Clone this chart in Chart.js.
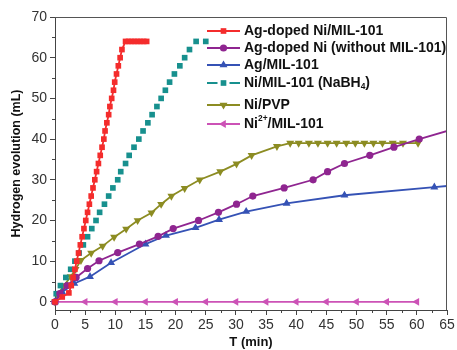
<!DOCTYPE html>
<html lang="en">
<head>
    <meta charset="UTF-8">
    <title>Hydrogen evolution</title>
    <style>
        body { margin: 0; background: #fff; }
        .chart-box { width: 457px; height: 350px; }
    </style>
</head>
<body>
    <div class="chart-box">
        <canvas id="h2Chart"></canvas>
    </div>

    <script src="https://cdn.jsdelivr.net/npm/chart.js"></script>
    <script>
        // Axis ticks
        const xTicks = [0, 5, 10, 15, 20, 25, 30, 35, 40, 45, 50, 55, 60, 65];
        const yTicks = [0, 10, 20, 30, 40, 50, 60, 70];

        // Series names (_{..} = subscript, ^{..} = superscript)
        const seriesNames = [
            'Ag-doped Ni/MIL-101',
            'Ag-doped Ni (without MIL-101)',
            'Ag/MIL-101',
            'Ni/MIL-101 (NaBH_{4})',
            'Ni/PVP',
            'Ni^{2+}/MIL-101'
        ];

        // Ag-doped Ni/MIL-101
        const agNiMilT = [0, 1.2, 2.3, 2.7, 3.0, 3.3, 3.6, 3.9, 4.2, 4.5, 4.8, 5.1, 5.4, 5.7, 6.0, 6.3, 6.6, 6.9, 7.2,
            7.5, 7.8, 8.1, 8.3, 8.6, 8.9, 9.1, 9.4, 9.7, 9.9, 10.2, 10.5, 10.8, 11.1, 11.7,
            12.2, 12.7, 13.2, 13.7, 14.2, 14.7, 15.2];
        const agNiMilV = [0, 1.2, 2.2, 4, 6, 8, 10, 12, 14, 16, 18, 20, 22, 24, 26, 28, 30, 32, 34,
            36, 38, 40, 42, 44, 46, 48, 50, 52, 54, 56, 58, 60, 62, 64,
            64, 64, 64, 64, 64, 64, 64];

        // Ag-doped Ni (without MIL-101)
        const agNiT = [0, 0.8, 2.0, 3.5, 5.4, 7.3, 10.4, 14.0, 17.1, 19.6, 23.8, 27.1, 30.1, 32.8, 38.0, 42.8, 45.2, 48.0, 52.2, 56.2, 60.4, 66];
        const agNiV = [0, 2, 4, 6, 8.2, 10.1, 12.1, 14.2, 16.1, 18, 20, 22, 24, 26, 28, 30, 32, 34, 36, 38, 40, 42.4];

        // Ag/MIL-101
        const agMilT = [0, 1.2, 3.2, 5.8, 9.3, 15.0, 18.4, 23.3, 27.2, 31.7, 38.4, 48.0, 62.9, 66];
        const agMilV = [0, 2.4, 4.5, 6.2, 9.6, 14.2, 16.3, 18.2, 20.2, 22.2, 24.2, 26.2, 28.2, 28.6];

        // Ni/MIL-101 (NaBH4)
        const niMilT = [0, 0.2, 0.9, 1.8, 2.6, 3.3, 4.0, 4.7, 5.4, 6.1, 6.8, 7.4, 8.2, 8.9, 9.6, 10.4, 10.9, 11.7,
            12.3, 13.1, 13.9, 14.6, 15.4, 16.1, 16.9, 17.6, 18.3, 19.0, 19.8, 20.7, 21.5, 22.3, 23.4, 25.0];
        const niMilV = [0, 2, 4, 6, 8, 10, 12, 14, 16, 18, 20, 22, 24, 26, 28, 30, 32, 34,
            36, 38, 40, 42, 44, 46, 48, 50, 52, 54, 56, 58, 60, 62, 64, 64];

        // Ni/PVP
        const niPvpT = [0, 0.5, 1.5, 2.6, 3.4, 4.3, 6.0, 7.9, 9.8, 11.8, 13.7, 16.0, 17.6, 19.3, 21.5, 24.0, 27.4, 30.1, 32.6, 36.8,
            39.0, 40.4, 42.1, 43.6, 45.2, 46.7, 48.3, 49.8, 51.3, 52.8, 54.3, 56.0, 57.7, 60.2];
        const niPvpV = [0, 2, 4, 6.2, 8, 10.2, 12, 13.7, 15.9, 17.9, 20, 21.9, 24, 26, 27.9, 30, 32, 33.9, 36, 38.2,
            39, 39, 39, 39, 39, 39, 39, 39, 39, 39, 39, 39, 39, 39];

        // Ni2+/MIL-101
        const ni2MilT = [0, 5, 10, 15, 20, 25, 30, 35, 40, 45, 50, 55, 60];
        const ni2MilV = [0, 0, 0, 0, 0, 0, 0, 0, 0, 0, 0, 0, 0];

        const FONT = "'Liberation Sans', Arial, sans-serif";

        function pairs(t, v) {
            return t.map((x, i) => ({ x: x, y: v[i] }));
        }

        function plainName(s) {
            return s.replace(/[_^]\{([^}]*)\}/g, '$1');
        }

        const seriesStyles = [
            { color: '#f42c2c', shape: 'rect', rot: 0, r: 4, line: true },
            { color: '#8f2590', shape: 'circle', rot: 0, r: 3.6, line: true },
            { color: '#3552b5', shape: 'triangle', rot: 0, r: 4.6, line: true },
            { color: '#17908e', shape: 'rect', rot: 0, r: 4, line: false },
            { color: '#8c8c22', shape: 'triangle', rot: 180, r: 4.6, line: true },
            { color: '#cc52b6', shape: 'triangle', rot: -90, r: 4.6, line: true }
        ];

        const seriesData = [
            pairs(agNiMilT, agNiMilV),
            pairs(agNiT, agNiV),
            pairs(agMilT, agMilV),
            pairs(niMilT, niMilV),
            pairs(niPvpT, niPvpV),
            pairs(ni2MilT, ni2MilV)
        ];

        const datasets = seriesData.map((d, i) => {
            const s = seriesStyles[i];
            return {
                label: plainName(seriesNames[i]),
                data: d,
                borderColor: s.color,
                backgroundColor: s.color,
                borderWidth: 1.8,
                showLine: s.line,
                pointStyle: s.shape,
                pointRotation: s.rot,
                pointRadius: s.r,
                pointBorderWidth: 0,
                tension: 0,
                clip: { left: 6, top: 6, right: 0, bottom: 6 }
            };
        });

        // simple marker for the legend
        function marker(ctx, shape, x, y, r, rot, color) {
            ctx.save();
            ctx.fillStyle = color;
            ctx.translate(x, y);
            ctx.rotate(rot * Math.PI / 180);
            ctx.beginPath();
            if (shape === 'rect') {
                const s = r * Math.SQRT1_2;
                ctx.rect(-s, -s, 2 * s, 2 * s);
            } else if (shape === 'circle') {
                ctx.arc(0, 0, r, 0, Math.PI * 2);
            } else {
                for (let k = 0; k < 3; k++) {
                    const a = k * 2 * Math.PI / 3;
                    ctx.lineTo(Math.sin(a) * r, -Math.cos(a) * r);
                }
                ctx.closePath();
            }
            ctx.fill();
            ctx.restore();
        }

        // draws text with _{sub} and ^{sup} parts
        function richText(ctx, str, x, y, size) {
            const parts = str.split(/([_^]\{[^}]*\})/).filter(p => p.length);
            parts.forEach(p => {
                let dy = 0, fs = size, txt = p;
                if (p[0] === '_') { txt = p.slice(2, -1); fs = size * 0.6; dy = 4; }
                else if (p[0] === '^') { txt = p.slice(2, -1); fs = size * 0.6; dy = -5; }
                ctx.font = 'bold ' + fs + 'px ' + FONT;
                ctx.fillText(txt, x, y + dy);
                x += ctx.measureText(txt).width;
            });
        }

        const frameAndLegend = {
            id: 'frameAndLegend',
            afterDraw(chart) {
                const ctx = chart.ctx;
                const a = chart.chartArea;
                const xs = chart.scales.x, ys = chart.scales.y;
                ctx.save();

                // top and right frame
                ctx.strokeStyle = '#555';
                ctx.lineWidth = 1;
                ctx.beginPath();
                ctx.moveTo(a.left, a.top + 0.5);
                ctx.lineTo(a.right - 0.5, a.top + 0.5);
                ctx.lineTo(a.right - 0.5, a.bottom);
                ctx.stroke();

                // minor ticks
                ctx.strokeStyle = '#444';
                ctx.beginPath();
                for (let i = 0; i < xTicks.length - 1; i++) {
                    const px = Math.round(xs.getPixelForValue((xTicks[i] + xTicks[i + 1]) / 2)) + 0.5;
                    ctx.moveTo(px, a.bottom);
                    ctx.lineTo(px, a.bottom + 3);
                }
                for (let i = 0; i < yTicks.length - 1; i++) {
                    const py = Math.round(ys.getPixelForValue((yTicks[i] + yTicks[i + 1]) / 2)) + 0.5;
                    ctx.moveTo(a.left, py);
                    ctx.lineTo(a.left - 3, py);
                }
                ctx.stroke();

                // legend inside the plot
                const rows = [31, 48, 65, 83, 105, 124];
                const x0 = 207, x1 = 240, tx = 244;
                ctx.textBaseline = 'middle';
                ctx.fillStyle = '#111';
                seriesNames.forEach((name, i) => {
                    const s = seriesStyles[i];
                    const y = rows[i];
                    const mid = (x0 + x1) / 2;
                    ctx.strokeStyle = s.color;
                    ctx.lineWidth = 1.8;
                    ctx.beginPath();
                    if (s.line) {
                        ctx.moveTo(x0, y);
                        ctx.lineTo(x1, y);
                    } else {
                        ctx.moveTo(x0, y);
                        ctx.lineTo(mid - 6, y);
                        ctx.moveTo(mid + 6, y);
                        ctx.lineTo(x1, y);
                    }
                    ctx.stroke();
                    marker(ctx, s.shape, mid, y, s.r, s.rot, s.color);
                    ctx.fillStyle = '#111';
                    richText(ctx, name, tx, y, 14);
                });
                ctx.restore();
            }
        };

        const ctx = document.getElementById('h2Chart').getContext('2d');
        const chart = new Chart(ctx, {
            type: 'line',
            data: { datasets: datasets },
            options: {
                responsive: true,
                maintainAspectRatio: false,
                animation: false,
                layout: { padding: { top: 17, right: 10, left: 0, bottom: 0 } },
                plugins: {
                    legend: { display: false },
                    tooltip: { enabled: false }
                },
                scales: {
                    x: {
                        type: 'linear',
                        min: 0,
                        max: 65,
                        afterBuildTicks: s => { s.ticks = xTicks.map(v => ({ value: v })); },
                        afterFit: s => { s.height = 40; },
                        grid: { drawOnChartArea: false, tickLength: 5, color: '#444' },
                        border: { display: true, color: '#444', width: 1 },
                        ticks: { color: '#333', font: { family: FONT, size: 14 }, padding: 2, maxRotation: 0, autoSkip: false },
                        title: { display: true, text: 'T (min)', color: '#111', font: { family: FONT, size: 13, weight: 'bold' }, padding: { top: 0, bottom: 0 } }
                    },
                    y: {
                        type: 'linear',
                        min: -2,
                        max: 70,
                        afterBuildTicks: s => { s.ticks = yTicks.map(v => ({ value: v })); },
                        afterFit: s => { s.width = 55; },
                        grid: { drawOnChartArea: false, tickLength: 5, color: '#444' },
                        border: { display: true, color: '#444', width: 1 },
                        ticks: { color: '#333', font: { family: FONT, size: 14 }, padding: 3, autoSkip: false },
                        title: { display: true, text: 'Hydrogen evolution (mL)', color: '#111', font: { family: FONT, size: 12.5, weight: 'bold' }, padding: { top: 9, bottom: 0 } }
                    }
                }
            },
            plugins: [frameAndLegend]
        });
    </script>
</body>
</html>
